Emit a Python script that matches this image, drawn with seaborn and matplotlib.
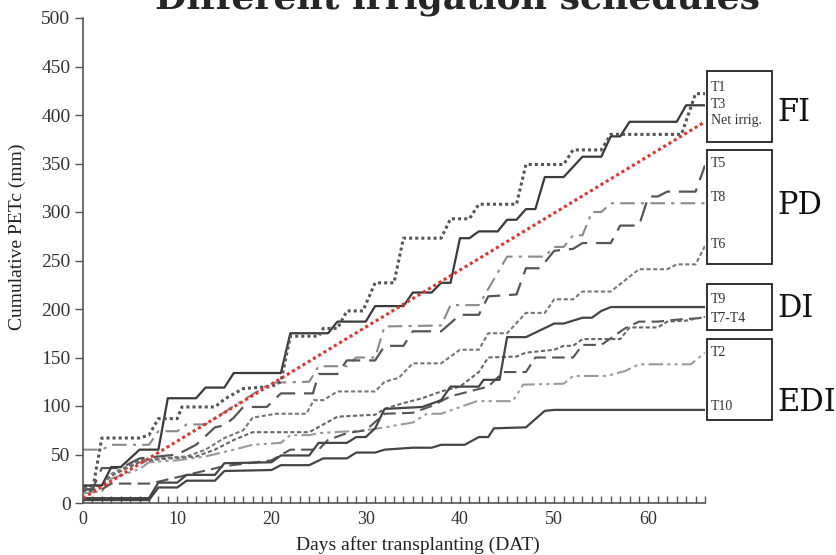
import matplotlib
matplotlib.use("Agg")
import matplotlib.pyplot as plt
import seaborn as sns
from matplotlib.patches import Rectangle

# cumulative PETc (mm), breakpoints per treatment
days_T1 = [0, 1, 2, 6, 7, 8, 10, 10.5, 14, 15, 17, 20, 21, 22, 25, 25.5, 27, 28, 29.7, 31, 33, 34, 38, 39, 41, 42, 46, 47, 51, 52, 55, 56, 63.5, 65, 66]
pet_T1 = [13, 13, 67, 67, 70, 87, 87, 99, 99, 107, 118, 120, 125, 172, 172, 180, 180, 198, 198, 227, 227, 273, 273, 293, 293, 308, 308, 349, 349, 364, 364, 380, 380, 422, 422]

days_T3 = [0, 2, 3, 4, 6, 8, 9, 12, 13, 15, 16, 21, 22, 26, 27, 30, 31, 34, 35, 37, 38, 39, 40, 41, 42, 44, 45, 46, 47, 48, 49, 51, 53, 55, 56, 57, 58, 63, 64, 66]
pet_T3 = [18, 18, 37, 37, 55, 55, 108, 108, 119, 119, 134, 134, 175, 175, 187, 187, 203, 203, 217, 217, 227, 227, 273, 273, 280, 280, 292, 292, 303, 303, 336, 336, 357, 357, 378, 378, 393, 393, 410, 410]

days_net = [0, 66]
pet_net = [5, 393]

days_T5 = [0, 1, 2, 4, 6, 8, 10, 12, 14, 15, 16, 17, 19.5, 21, 24.4, 25, 27, 28, 31, 32, 34, 35, 38, 40, 42, 43, 46, 47, 48.5, 50, 52, 53, 56, 57, 59, 60, 61, 62, 65, 66]
pet_T5 = [14, 14, 36, 36, 46, 48, 50, 60, 78, 80, 88, 99, 99, 113, 113, 133, 133, 147, 147, 162, 162, 177, 177, 194, 194, 213, 215, 242, 242, 260, 262, 268, 268, 286, 286, 316, 316, 321, 321, 348]

days_T8 = [0, 2, 3, 7, 8, 10, 11, 13, 16, 18, 20, 24, 25, 28, 29, 31, 32, 38, 39, 42, 45, 49, 50, 51, 52, 53, 54, 55, 56, 66]
pet_T8 = [55, 55, 60, 60, 74, 74, 81, 81, 100, 112, 124, 125, 141, 141, 150, 150, 182, 183, 204, 204, 254, 254, 264, 264, 276, 276, 300, 300, 309, 309]

days_T6 = [0, 2, 3, 6, 8, 11, 13, 15, 17, 18, 20.5, 23.7, 24.5, 25.5, 27, 31, 32, 33.5, 35, 38, 40, 42, 43, 45, 47, 49, 50, 52, 53, 56, 59, 62, 63, 65, 66]
pet_T6 = [18, 18, 30, 44, 46, 48, 55, 67, 75, 88, 92, 92, 106, 106, 115, 115, 125, 129, 144, 144, 158, 158, 175, 175, 196, 196, 210, 210, 218, 218, 241, 241, 246, 246, 265]

days_T9 = [0, 7, 8, 10, 11, 14, 15, 20, 21, 24, 25, 28, 29, 30, 31, 32, 36, 38, 39, 42, 42.5, 44.2, 45, 47, 50, 51, 53, 54, 55, 56, 66]
pet_T9 = [5, 5, 21, 21, 29, 29, 41, 42, 49, 49, 62, 62, 68, 68, 77, 97, 99, 106, 120, 120, 127, 127, 171, 171, 185, 185, 191, 191, 198, 202, 202]

days_T4 = [0, 2, 3, 6, 8, 12, 14, 16, 18, 24, 27, 31, 32, 34, 36, 38, 40, 42, 43, 46, 47, 50, 51, 52, 53, 57, 58, 61, 62, 64, 66]
pet_T4 = [16, 18, 28, 42, 45, 48, 55, 65, 73, 73, 89, 91, 97, 103, 108, 115, 120, 135, 150, 151, 155, 158, 162, 162, 169, 169, 181, 181, 187, 188, 192]

days_T7 = [0, 2, 3, 7, 8, 15, 20, 22, 25, 26, 28, 30, 32, 35, 37, 39, 43, 44.6, 47, 48, 52, 53, 55, 57.5, 59, 61, 63, 66]
pet_T7 = [14, 14, 20, 20, 22, 38, 44, 55, 55, 65, 72, 75, 92, 93, 100, 110, 120, 135, 135, 150, 150, 163, 163, 180, 187, 187, 189, 191]

days_T2 = [0, 2, 3, 6, 7, 10, 13, 16, 18, 21, 22, 24, 25, 30, 32, 35, 36.5, 38, 41.8, 45.6, 46.7, 51, 52, 55.6, 57.5, 59, 64.5, 66]
pet_T2 = [10, 12, 25, 35, 42, 44, 48, 55, 60, 62, 70, 70, 72, 75, 78, 83, 92, 92, 105, 105, 122, 123, 131, 131, 136, 143, 143, 155]

days_T10 = [0, 7, 8, 10, 11, 14, 15, 20, 21, 24, 25.5, 28, 29, 31, 32, 35, 37, 38, 40.5, 42, 43, 43.6, 47, 49, 50, 66]
pet_T10 = [3, 3, 16, 16, 23, 23, 33, 34, 39, 39, 46, 46, 52, 52, 55, 57, 57, 60, 60, 68, 68, 77, 78, 95, 96, 96]

series = [
    (days_T10, pet_T10, "#444444", "-", 1.6),
    (days_T2, pet_T2, "#9a9a9a", (0, (7, 2, 1.5, 2, 1.5, 2)), 1.5),
    (days_T7, pet_T7, "#555555", (0, (6, 3)), 1.5),
    (days_T4, pet_T4, "#666666", (0, (2, 1.2)), 1.5),
    (days_T9, pet_T9, "#444444", "-", 1.6),
    (days_T6, pet_T6, "#777777", (0, (2, 1.2)), 1.5),
    (days_T8, pet_T8, "#8a8a8a", (0, (7, 3, 1.5, 3)), 1.5),
    (days_T5, pet_T5, "#555555", (0, (9, 4)), 1.6),
    (days_T3, pet_T3, "#3a3a3a", "-", 1.6),
    (days_T1, pet_T1, "#555555", (0, (1, 1)), 2.2),
    (days_net, pet_net, "#e5312b", (0, (1, 1)), 2.2),
]

sns.set_theme(style="ticks")
plt.rcParams["font.family"] = ["Liberation Serif", "DejaVu Serif"]

fig = plt.figure(figsize=(8.36, 5.55), dpi=100)
ax = fig.add_axes([83 / 836, 1 - 503 / 555, 622 / 836, 485 / 555])

for xs, ys, col, ls, lw in series:
    sns.lineplot(x=xs, y=ys, ax=ax, color=col, linestyle=ls, linewidth=lw,
                 estimator=None, sort=False)

ax.set_xlim(0, 66)
ax.set_ylim(0, 500)
ax.set_xticks(range(0, 61, 10))
ax.set_xticks(range(0, 67), minor=True)
ax.set_yticks(range(0, 501, 50))
ax.tick_params(axis="x", which="both", direction="in", length=5, width=1,
               color="#555555", labelsize=13, labelcolor="#333333", pad=6)
ax.tick_params(axis="y", direction="out", length=6, width=1, color="#555555",
               labelsize=14, labelcolor="#333333", pad=3)
for s in ["top", "right"]:
    ax.spines[s].set_visible(False)
for s in ["left", "bottom"]:
    ax.spines[s].set_color("#555555")
    ax.spines[s].set_linewidth(1.2)

ax.set_xlabel("Days after transplanting (DAT)", fontsize=14, color="#222222")
ax.set_ylabel("Cumulative PETc (mm)", fontsize=14, color="#222222")
ax.xaxis.set_label_coords(0.539, -0.068)
ax.yaxis.set_label_coords(-0.092, 0.55)

# treatment group boxes on the right
boxes = [(0.744, 0.147), (0.493, 0.235), (0.357, 0.095), (0.171, 0.167)]
for y0, h in boxes:
    ax.add_patch(Rectangle((1.003, y0), 0.1045, h, transform=ax.transAxes,
                           fill=False, edgecolor="#222222", linewidth=1.3, clip_on=False))

labels = [("T1", 0.856), ("T3", 0.821), ("Net irrig.", 0.788), ("T5", 0.701),
          ("T8", 0.629), ("T6", 0.532), ("T9", 0.419), ("T7-T4", 0.381),
          ("T2", 0.311), ("T10", 0.198)]
for txt, yy in labels:
    ax.text(1.0096, yy, txt, transform=ax.transAxes, fontsize=10, color="#333333",
            ha="left", va="center")

groups = [("FI", 0.806), ("PD", 0.614), ("DI", 0.402), ("EDI", 0.208)]
for txt, yy in groups:
    ax.text(1.117, yy, txt, transform=ax.transAxes, fontsize=22, color="#111111",
            ha="left", va="center", family="DejaVu Serif")

# title sits partly above the canvas, as in the source image
fig.text(0.547, 1 - 9 / 555, "Different irrigation schedules", ha="center",
         va="baseline", fontsize=26, fontweight="bold", family="DejaVu Serif")

fig.savefig("out.png", dpi=100)
